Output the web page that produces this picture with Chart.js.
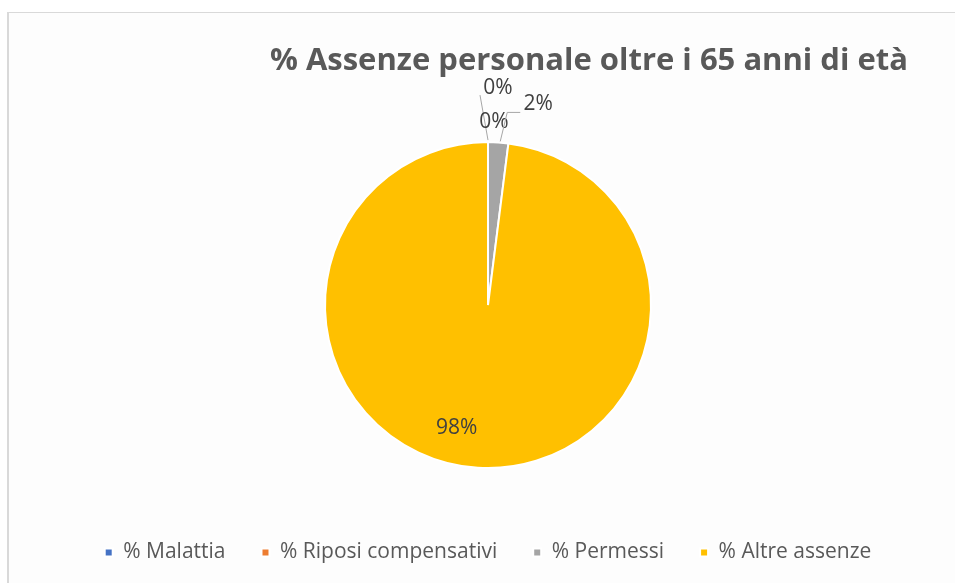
<!DOCTYPE html>
<html>
<head>
<meta charset="utf-8">
<script src="https://cdn.jsdelivr.net/npm/chart.js@4.4.0/dist/chart.umd.min.js"></script>
<style>
  html, body { margin:0; padding:0; background:#fff; }
  #wrap { position:relative; width:955px; height:583px; }
  #frame { position:absolute; left:7px; top:12px; right:0; bottom:0; border-left:2px solid #d9d9d9; border-top:1px solid #d9d9d9; background:#fdfdfd; }
  canvas { position:absolute; left:0; top:0; }
</style>
</head>
<body>
<div id="wrap">
  <div id="frame"></div>
  <canvas id="pie" width="955" height="583"></canvas>
</div>
<script>
const categories = ["% Malattia", "% Riposi compensativi", "% Permessi", "% Altre assenze"];
const values = [0, 0, 2, 98];
const colors = ["#4472C4", "#ED7D31", "#A5A5A5", "#FFC000"];
const chartTitle = "% Assenze personale oltre i 65 anni di età";

// where each percentage sits, relative to the outer edge of its slice
const labelSpots = [
  { dx: 10, dy: -54, leader: [[0, -2], [-8, -47]] },
  { dx: 6, dy: -20 },
  { dx: 40, dy: -38, leader: [[2, -1], [9, -30], [22, -30]] },
  { dx: -21, dy: -40 }
];

const sliceLabels = {
  id: "sliceLabels",
  afterDatasetsDraw(chart) {
    const ctx = chart.ctx;
    const meta = chart.getDatasetMeta(0);
    const data = chart.data.datasets[0].data;
    const total = data.reduce((a, b) => a + b, 0);
    ctx.save();
    ctx.font = "21px 'Open Sans'";
    ctx.textAlign = "center";
    ctx.textBaseline = "middle";
    meta.data.forEach((arc, i) => {
      const p = arc.getProps(["x", "y", "startAngle", "endAngle", "outerRadius"], true);
      const mid = (p.startAngle + p.endAngle) / 2;
      const ax = p.x + Math.cos(mid) * p.outerRadius;
      const ay = p.y + Math.sin(mid) * p.outerRadius;
      const spot = labelSpots[i];
      if (spot.leader) {
        ctx.strokeStyle = "#a6a6a6";
        ctx.lineWidth = 1;
        ctx.beginPath();
        spot.leader.forEach(([lx, ly], k) => k ? ctx.lineTo(ax + lx, ay + ly) : ctx.moveTo(ax + lx, ay + ly));
        ctx.stroke();
      }
      ctx.fillStyle = "#404040";
      ctx.fillText(Math.round(data[i] / total * 100) + "%", ax + spot.dx, ay + spot.dy);
    });
    ctx.restore();
  }
};

new Chart(document.getElementById("pie"), {
  type: "pie",
  data: {
    labels: categories,
    datasets: [{ data: values, backgroundColor: colors, borderColor: "#ffffff", borderWidth: 2, radius: 163 }]
  },
  plugins: [sliceLabels],
  options: {
    responsive: false,
    animation: false,
    devicePixelRatio: 1,
    layout: { padding: { top: 20, left: 68, right: 47, bottom: 10 } },
    plugins: {
      title: {
        display: true, text: chartTitle, align: "end", color: "#595959",
        font: { family: "Open Sans", size: 31, weight: "bold" },
        padding: { top: 23, bottom: 24 }
      },
      legend: {
        position: "bottom",
        labels: { color: "#595959", font: { family: "Open Sans", size: 21 }, boxWidth: 8, boxHeight: 8, padding: 36 }
      },
      tooltip: { enabled: false }
    }
  }
});
</script>
</body>
</html>
